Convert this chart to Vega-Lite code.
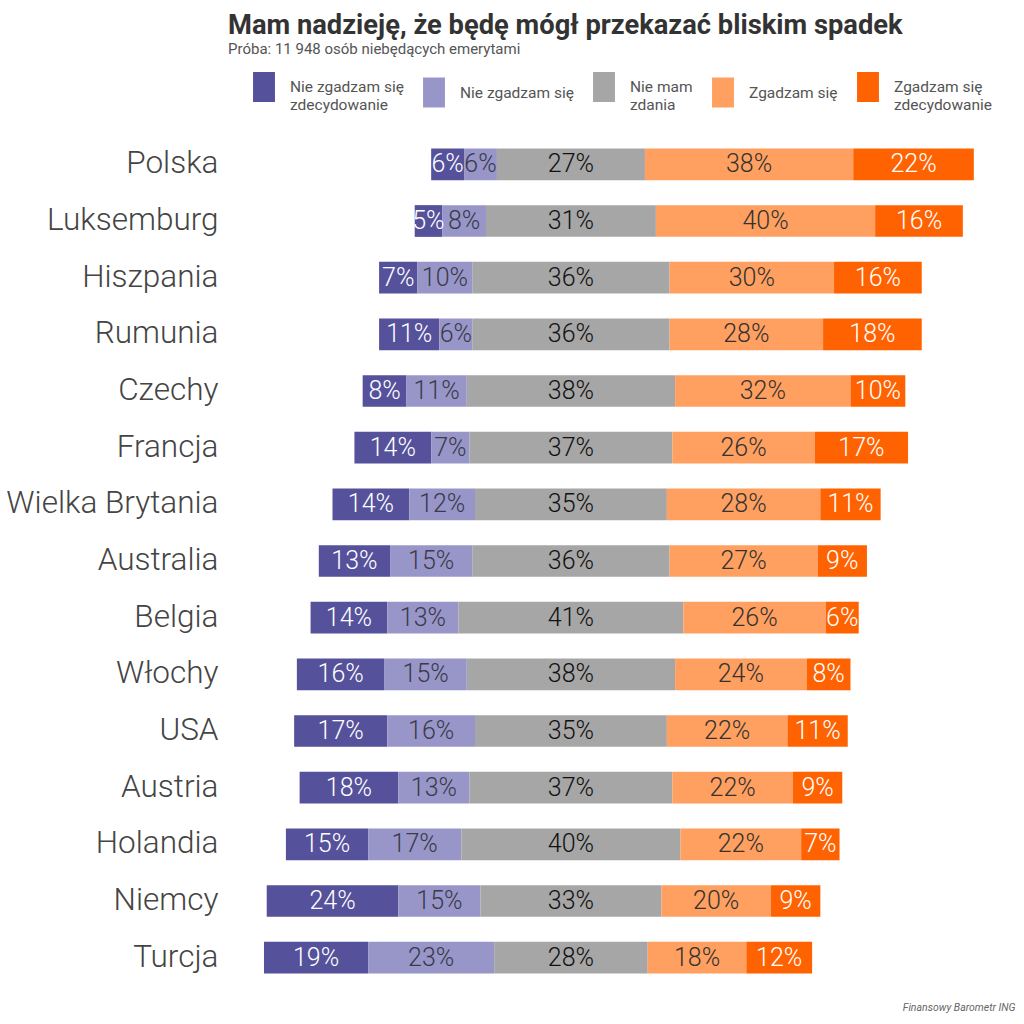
{
  "$schema": "https://vega.github.io/schema/vega-lite/v6.json",
  "autosize": {"type": "none"},
  "width": 780,
  "height": 850,
  "padding": {"left": 230, "top": 136, "right": 14, "bottom": 38},
  "background": "white",
  "config": {"view": {"stroke": null}, "font": "Roboto"},
  "title": {
    "text": "Mam nadzieję, że będę mógł przekazać bliskim spadek",
    "subtitle": "Próba: 11 948 osób niebędących emerytami",
    "anchor": "start",
    "frame": "group",
    "dx": -2,
    "offset": 15,
    "fontSize": 27.3,
    "fontWeight": "bold",
    "color": "#333333",
    "subtitleFontSize": 15,
    "subtitleColor": "#555555",
    "subtitlePadding": 3
  },
  "data": {
    "values": [
      {"country": "Polska", "category": "Nie zgadzam się zdecydowanie", "k": 1, "value": 6},
      {"country": "Polska", "category": "Nie zgadzam się", "k": 2, "value": 6},
      {"country": "Polska", "category": "Nie mam zdania", "k": 3, "value": 27},
      {"country": "Polska", "category": "Zgadzam się", "k": 4, "value": 38},
      {"country": "Polska", "category": "Zgadzam się zdecydowanie", "k": 5, "value": 22},
      {"country": "Luksemburg", "category": "Nie zgadzam się zdecydowanie", "k": 1, "value": 5},
      {"country": "Luksemburg", "category": "Nie zgadzam się", "k": 2, "value": 8},
      {"country": "Luksemburg", "category": "Nie mam zdania", "k": 3, "value": 31},
      {"country": "Luksemburg", "category": "Zgadzam się", "k": 4, "value": 40},
      {"country": "Luksemburg", "category": "Zgadzam się zdecydowanie", "k": 5, "value": 16},
      {"country": "Hiszpania", "category": "Nie zgadzam się zdecydowanie", "k": 1, "value": 7},
      {"country": "Hiszpania", "category": "Nie zgadzam się", "k": 2, "value": 10},
      {"country": "Hiszpania", "category": "Nie mam zdania", "k": 3, "value": 36},
      {"country": "Hiszpania", "category": "Zgadzam się", "k": 4, "value": 30},
      {"country": "Hiszpania", "category": "Zgadzam się zdecydowanie", "k": 5, "value": 16},
      {"country": "Rumunia", "category": "Nie zgadzam się zdecydowanie", "k": 1, "value": 11},
      {"country": "Rumunia", "category": "Nie zgadzam się", "k": 2, "value": 6},
      {"country": "Rumunia", "category": "Nie mam zdania", "k": 3, "value": 36},
      {"country": "Rumunia", "category": "Zgadzam się", "k": 4, "value": 28},
      {"country": "Rumunia", "category": "Zgadzam się zdecydowanie", "k": 5, "value": 18},
      {"country": "Czechy", "category": "Nie zgadzam się zdecydowanie", "k": 1, "value": 8},
      {"country": "Czechy", "category": "Nie zgadzam się", "k": 2, "value": 11},
      {"country": "Czechy", "category": "Nie mam zdania", "k": 3, "value": 38},
      {"country": "Czechy", "category": "Zgadzam się", "k": 4, "value": 32},
      {"country": "Czechy", "category": "Zgadzam się zdecydowanie", "k": 5, "value": 10},
      {"country": "Francja", "category": "Nie zgadzam się zdecydowanie", "k": 1, "value": 14},
      {"country": "Francja", "category": "Nie zgadzam się", "k": 2, "value": 7},
      {"country": "Francja", "category": "Nie mam zdania", "k": 3, "value": 37},
      {"country": "Francja", "category": "Zgadzam się", "k": 4, "value": 26},
      {"country": "Francja", "category": "Zgadzam się zdecydowanie", "k": 5, "value": 17},
      {"country": "Wielka Brytania", "category": "Nie zgadzam się zdecydowanie", "k": 1, "value": 14},
      {"country": "Wielka Brytania", "category": "Nie zgadzam się", "k": 2, "value": 12},
      {"country": "Wielka Brytania", "category": "Nie mam zdania", "k": 3, "value": 35},
      {"country": "Wielka Brytania", "category": "Zgadzam się", "k": 4, "value": 28},
      {"country": "Wielka Brytania", "category": "Zgadzam się zdecydowanie", "k": 5, "value": 11},
      {"country": "Australia", "category": "Nie zgadzam się zdecydowanie", "k": 1, "value": 13},
      {"country": "Australia", "category": "Nie zgadzam się", "k": 2, "value": 15},
      {"country": "Australia", "category": "Nie mam zdania", "k": 3, "value": 36},
      {"country": "Australia", "category": "Zgadzam się", "k": 4, "value": 27},
      {"country": "Australia", "category": "Zgadzam się zdecydowanie", "k": 5, "value": 9},
      {"country": "Belgia", "category": "Nie zgadzam się zdecydowanie", "k": 1, "value": 14},
      {"country": "Belgia", "category": "Nie zgadzam się", "k": 2, "value": 13},
      {"country": "Belgia", "category": "Nie mam zdania", "k": 3, "value": 41},
      {"country": "Belgia", "category": "Zgadzam się", "k": 4, "value": 26},
      {"country": "Belgia", "category": "Zgadzam się zdecydowanie", "k": 5, "value": 6},
      {"country": "Włochy", "category": "Nie zgadzam się zdecydowanie", "k": 1, "value": 16},
      {"country": "Włochy", "category": "Nie zgadzam się", "k": 2, "value": 15},
      {"country": "Włochy", "category": "Nie mam zdania", "k": 3, "value": 38},
      {"country": "Włochy", "category": "Zgadzam się", "k": 4, "value": 24},
      {"country": "Włochy", "category": "Zgadzam się zdecydowanie", "k": 5, "value": 8},
      {"country": "USA", "category": "Nie zgadzam się zdecydowanie", "k": 1, "value": 17},
      {"country": "USA", "category": "Nie zgadzam się", "k": 2, "value": 16},
      {"country": "USA", "category": "Nie mam zdania", "k": 3, "value": 35},
      {"country": "USA", "category": "Zgadzam się", "k": 4, "value": 22},
      {"country": "USA", "category": "Zgadzam się zdecydowanie", "k": 5, "value": 11},
      {"country": "Austria", "category": "Nie zgadzam się zdecydowanie", "k": 1, "value": 18},
      {"country": "Austria", "category": "Nie zgadzam się", "k": 2, "value": 13},
      {"country": "Austria", "category": "Nie mam zdania", "k": 3, "value": 37},
      {"country": "Austria", "category": "Zgadzam się", "k": 4, "value": 22},
      {"country": "Austria", "category": "Zgadzam się zdecydowanie", "k": 5, "value": 9},
      {"country": "Holandia", "category": "Nie zgadzam się zdecydowanie", "k": 1, "value": 15},
      {"country": "Holandia", "category": "Nie zgadzam się", "k": 2, "value": 17},
      {"country": "Holandia", "category": "Nie mam zdania", "k": 3, "value": 40},
      {"country": "Holandia", "category": "Zgadzam się", "k": 4, "value": 22},
      {"country": "Holandia", "category": "Zgadzam się zdecydowanie", "k": 5, "value": 7},
      {"country": "Niemcy", "category": "Nie zgadzam się zdecydowanie", "k": 1, "value": 24},
      {"country": "Niemcy", "category": "Nie zgadzam się", "k": 2, "value": 15},
      {"country": "Niemcy", "category": "Nie mam zdania", "k": 3, "value": 33},
      {"country": "Niemcy", "category": "Zgadzam się", "k": 4, "value": 20},
      {"country": "Niemcy", "category": "Zgadzam się zdecydowanie", "k": 5, "value": 9},
      {"country": "Turcja", "category": "Nie zgadzam się zdecydowanie", "k": 1, "value": 19},
      {"country": "Turcja", "category": "Nie zgadzam się", "k": 2, "value": 23},
      {"country": "Turcja", "category": "Nie mam zdania", "k": 3, "value": 28},
      {"country": "Turcja", "category": "Zgadzam się", "k": 4, "value": 18},
      {"country": "Turcja", "category": "Zgadzam się zdecydowanie", "k": 5, "value": 12}
    ]
  },
  "transform": [
    {"stack": "value", "groupby": ["country"], "sort": [{"field": "k", "order": "ascending"}], "as": ["s0", "s1"]},
    {"calculate": "datum.k <= 2 ? datum.value : (datum.k == 3 ? datum.value / 2 : 0)", "as": "neg"},
    {"joinaggregate": [{"op": "sum", "field": "neg", "as": "offset"}], "groupby": ["country"]},
    {"calculate": "datum.s0 - datum.offset", "as": "x0"},
    {"calculate": "datum.s1 - datum.offset", "as": "x1"},
    {"calculate": "(datum.x0 + datum.x1) / 2", "as": "mid"},
    {"calculate": "datum.value + '%'", "as": "label"}
  ],
  "encoding": {
    "y": {
      "field": "country",
      "type": "nominal",
      "sort": ["Polska", "Luksemburg", "Hiszpania", "Rumunia", "Czechy", "Francja", "Wielka Brytania", "Australia", "Belgia", "Włochy", "USA", "Austria", "Holandia", "Niemcy", "Turcja"],
      "scale": {"paddingInner": 0.44, "paddingOuter": 0.22},
      "axis": {
        "title": null,
        "domain": false,
        "ticks": false,
        "labelPadding": 12,
        "labelFontSize": 31.5,
        "labelFont": "Roboto",
        "labelFontWeight": 300,
        "labelColor": "#444444",
        "labelLimit": 400
      }
    }
  },
  "layer": [
    {
      "mark": {"type": "bar"},
      "encoding": {
        "x": {
          "field": "x0",
          "type": "quantitative",
          "scale": {"domain": [-62.2, 80.1], "nice": false, "zero": false},
          "axis": {
            "title": "Finansowy Barometr ING",
            "titleAnchor": "end",
            "titleAlign": "right",
            "titleX": 785,
            "titleFontStyle": "italic",
            "titleFontWeight": "normal",
            "titleFontSize": 10.5,
            "titleColor": "#666666",
            "titlePadding": 16,
            "labels": false,
            "ticks": false,
            "domain": false,
            "grid": false
          }
        },
        "x2": {"field": "x1"},
        "color": {
          "field": "category",
          "type": "nominal",
          "scale": {
            "domain": ["Nie zgadzam się zdecydowanie", "Nie zgadzam się", "Nie mam zdania", "Zgadzam się", "Zgadzam się zdecydowanie"],
            "range": ["#55519b", "#9896c8", "#a6a6a6", "#ffa060", "#ff6200"]
          },
          "legend": {
            "title": null,
            "orient": "none",
            "legendX": 19,
            "legendY": -64,
            "direction": "horizontal",
            "columns": 5,
            "columnPadding": 15,
            "symbolType": "M-0.73,-1H0.73V1H-0.73Z",
            "symbolSize": 900,
            "symbolStrokeWidth": 0,
            "labelFontSize": 15.5,
            "labelColor": "#555555",
            "labelOffset": 11,
            "labelLimit": 200,
            "labelExpr": "datum.label == 'Nie zgadzam się zdecydowanie' ? ['Nie zgadzam się', 'zdecydowanie'] : datum.label == 'Nie mam zdania' ? ['Nie mam', 'zdania'] : datum.label == 'Zgadzam się zdecydowanie' ? ['Zgadzam się', 'zdecydowanie'] : datum.label"
          }
        }
      }
    },
    {
      "mark": {"type": "text", "fontSize": 25, "fontWeight": 300, "align": "center", "baseline": "middle"},
      "encoding": {
        "x": {"field": "mid", "type": "quantitative"},
        "text": {"field": "label"},
        "color": {
          "condition": [
            {"test": "datum.k == 1 || datum.k == 5", "value": "#ffffff"},
            {"test": "datum.k == 2", "value": "#3a3a4a"},
            {"test": "datum.k == 3", "value": "#111111"}
          ],
          "value": "#333333"
        }
      }
    }
  ]
}
